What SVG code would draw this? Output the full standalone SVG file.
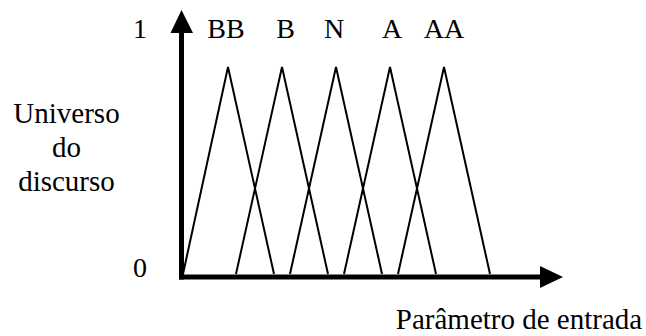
<svg xmlns="http://www.w3.org/2000/svg" width="646" height="336" viewBox="0 0 646 336">
<style>
text{font-family:"Liberation Serif","Times New Roman",serif;font-size:28px;fill:#000;text-anchor:middle}
.big{font-size:29px}
.axis{stroke:#000;stroke-width:5;fill:none}
.mf{stroke:#000;stroke-width:2;fill:none;stroke-linejoin:miter}
</style>
<rect width="646" height="336" fill="#fff"/>
<g id="axes">
<line class="axis" x1="181.5" y1="279.5" x2="181.5" y2="30"/>
<polygon points="181.5,10 170.5,33 193,33" fill="#000"/>
<line class="axis" x1="179" y1="277" x2="543" y2="277"/>
<polygon points="563,277 540,266 540,288" fill="#000"/>
</g>
<g id="membership">
<polyline class="mf" points="183,274 228,67 274,274"/>
<polyline class="mf" points="236,274 282,67 328,274"/>
<polyline class="mf" points="290,274 336,67 382,274"/>
<polyline class="mf" points="344,274 390,67 436,274"/>
<polyline class="mf" points="398,274 444,67 490,274"/>
</g>
<g id="labels">
<text x="140" y="38">1</text>
<text x="140" y="277">0</text>
<text x="226" y="38">BB</text>
<text x="285.5" y="38">B</text>
<text x="334" y="38">N</text>
<text x="392" y="38">A</text>
<text x="444" y="38">AA</text>
<text class="big" x="66.5" y="123">Universo</text>
<text class="big" x="66.5" y="157">do</text>
<text class="big" x="66.5" y="191">discurso</text>
<text class="big" x="519" y="329">Parâmetro de entrada</text>
</g>
</svg>
